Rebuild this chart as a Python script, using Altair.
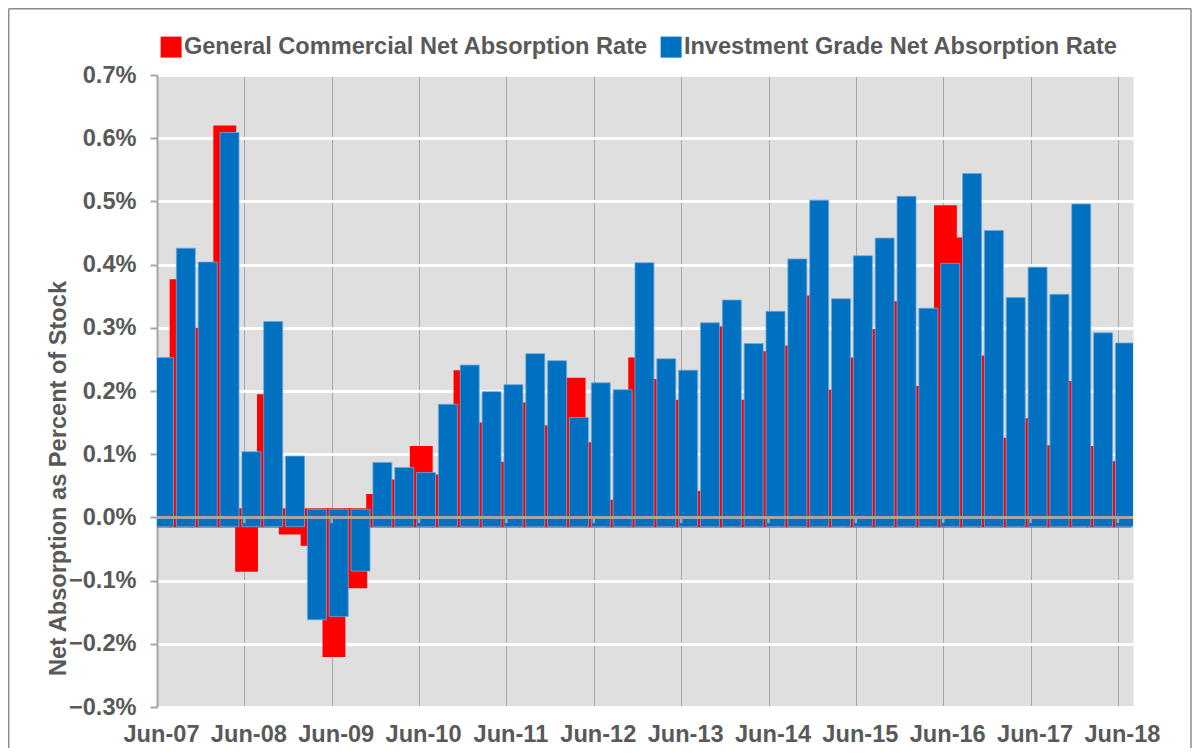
import altair as alt
import pandas as pd

# ---------------- data ----------------
quarters = [["Jun", "Sep", "Dec", "Mar"][i % 4] + "-%02d" % (7 + (i + 1) // 4) for i in range(45)]
year_labels = ["Jun-07", "Jun-08", "Jun-09", "Jun-10", "Jun-11", "Jun-12",
               "Jun-13", "Jun-14", "Jun-15", "Jun-16", "Jun-17", "Jun-18"]

general = [0.200, 0.377, 0.300, 0.620, -0.086, 0.195, -0.027, -0.045, -0.221, -0.112,
           0.037, 0.060, 0.113, 0.068, 0.233, 0.150, 0.088, 0.182, 0.146, 0.221,
           0.119, 0.028, 0.253, 0.219, 0.186, 0.042, 0.302, 0.186, 0.263, 0.272,
           0.351, 0.202, 0.253, 0.298, 0.342, 0.208, 0.494, 0.443, 0.256, 0.126,
           0.157, 0.114, 0.216, 0.113, 0.089]

investment = [0.253, 0.426, 0.404, 0.609, 0.104, 0.310, 0.097, -0.162, -0.157, -0.085,
              0.087, 0.079, 0.071, 0.179, 0.241, 0.199, 0.210, 0.259, 0.248, 0.158,
              0.213, 0.202, 0.403, 0.251, 0.233, 0.308, 0.344, 0.275, 0.326, 0.409,
              0.502, 0.346, 0.414, 0.442, 0.508, 0.331, 0.402, 0.544, 0.454, 0.348,
              0.396, 0.353, 0.496, 0.292, 0.276]

series_names = ["General Commercial Net Absorption Rate", "Investment Grade Net Absorption Rate"]
series_colors = ["#FF0000", "#0070C0"]

y_ticks = [-0.3, -0.2, -0.1, 0.0, 0.1, 0.2, 0.3, 0.4, 0.5, 0.6, 0.7]
year_ticks = [0, 4, 8, 12, 16, 20, 24, 28, 32, 36, 40, 44]

gen_df = pd.DataFrame({"idx": list(range(len(quarters))), "quarter": quarters,
                       "v": general, "series": series_names[0]})
inv_df = pd.DataFrame({"idx": list(range(len(quarters))), "quarter": quarters,
                       "v": investment, "series": series_names[1]})
tick_df = pd.DataFrame({"t": year_ticks[1:]})

FONT = "Liberation Sans"
TXT = "#595959"
GRAY = "#A6A6A6"

label_array = "[" + ",".join("'%s'" % s for s in year_labels) + "]"

x_scale = alt.Scale(domain=[0, 44.69], nice=False, zero=False)
y_scale = alt.Scale(domain=[-0.3, 0.7], nice=False, zero=False)
color_scale = alt.Scale(domain=series_names, range=series_colors)

x_axis = alt.Axis(values=year_ticks, labelExpr=label_array + "[round(datum.value/4)]",
                  title=None, ticks=False, tickSize=0, domain=False, grid=True,
                  gridColor=GRAY, gridWidth=1, labelFont=FONT, labelFontSize=23.6,
                  labelFontWeight="bold", labelColor=TXT, labelPadding=15,
                  labelOffset=4, labelFlush=False)
y_axis = alt.Axis(values=y_ticks, labelExpr="format(datum.value, '.1f') + '%'",
                  title="Net Absorption as Percent of Stock", grid=True,
                  gridColor="white", gridWidth=3, domainColor=GRAY, domainWidth=2,
                  tickColor=GRAY, tickWidth=2, tickSize=7, labelPadding=14,
                  labelFont=FONT, labelFontSize=23.6, labelFontWeight="bold",
                  labelColor=TXT, titleFont=FONT, titleFontSize=23.6,
                  titleFontWeight="bold", titleColor=TXT, titlePadding=-2,
                  titleY=403)

legend = alt.Legend(title=None, orient="none", legendX=2.3, legendY=-40,
                    direction="horizontal", symbolType="square", symbolSize=441,
                    symbolStrokeWidth=0, symbolOpacity=1, labelFont=FONT,
                    labelFontSize=23.6, labelFontWeight="bold", labelColor=TXT,
                    labelOffset=1, columnPadding=11, padding=0, labelLimit=600)

red = alt.Chart(gen_df).transform_calculate(
    x0="datum.idx - 0.421", x1="datum.idx + 0.623",
    base="datum.v >= 0 ? -0.0160 : 0.0144"
).mark_rect(clip=True).encode(
    x=alt.X("x0:Q", scale=x_scale, axis=x_axis),
    x2="x1:Q",
    y=alt.Y("v:Q", scale=y_scale, axis=y_axis),
    y2="base:Q",
    color=alt.Color("series:N", scale=color_scale, legend=legend),
)

blue = alt.Chart(inv_df).transform_calculate(
    x0="datum.idx - 0.114", x1="datum.idx + 0.755",
    base="datum.v >= 0 ? -0.0147 : 0.0128"
).mark_rect(clip=True, stroke="#6FA8DC", strokeWidth=0.8).encode(
    x=alt.X("x0:Q", scale=x_scale),
    x2="x1:Q",
    y=alt.Y("v:Q", scale=y_scale),
    y2="base:Q",
    color=alt.Color("series:N", scale=color_scale, legend=legend),
)

zero_line = alt.Chart(tick_df).mark_rule(color=GRAY, strokeWidth=2.5).encode(
    y=alt.datum(0)
)

zero_ticks = alt.Chart(tick_df).mark_rule(color=GRAY, strokeWidth=2.5).encode(
    x=alt.X("t:Q", scale=x_scale),
    y=alt.datum(0),
    y2=alt.datum(-0.009),
)

frame = pd.DataFrame({"k": [0]})
border_left = alt.Chart(frame).mark_rule(color="#8C8C8C", strokeWidth=1.5).encode(
    x=alt.value(-148.3), y=alt.value(-66.3), y2=alt.value(700))
border_top = alt.Chart(frame).mark_rule(color="#8C8C8C", strokeWidth=1.5).encode(
    x=alt.value(-148.3), x2=alt.value(1034), y=alt.value(-66.3))
border_right = alt.Chart(frame).mark_rule(color="#8C8C8C", strokeWidth=1.5).encode(
    x=alt.value(1034), y=alt.value(-66.3), y2=alt.value(700))

chart = alt.layer(red, blue, zero_line, zero_ticks, border_left, border_top, border_right).properties(
    width=976, height=632,
    autosize=alt.AutoSizeParams(type="none"),
    padding={"left": 149, "top": 67, "right": 59, "bottom": 41},
).configure_view(fill="#DFDFDF", stroke="transparent")

chart.save("out.html", embed_options={"renderer": "svg", "actions": False})
